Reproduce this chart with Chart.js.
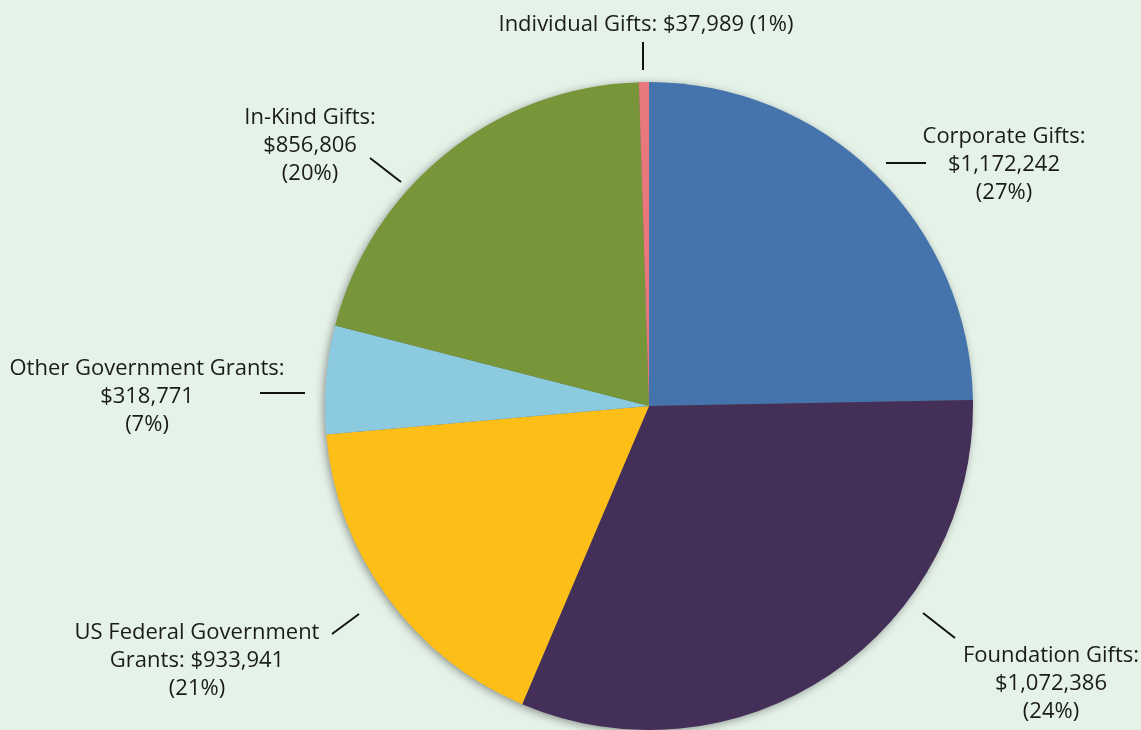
<!DOCTYPE html>
<html>
<head>
<meta charset="utf-8">
<script src="https://cdn.jsdelivr.net/npm/chart.js@4/dist/chart.umd.min.js"></script>
<style>
  html, body { margin: 0; padding: 0; background: #e5f2e8; }
  #wrap { width: 1141px; height: 730px; position: relative; }
</style>
</head>
<body>
<div id="wrap"><canvas id="pieChart"></canvas></div>
<script>
// categories (clockwise from 12 o'clock)
const categories = ["Corporate Gifts", "Foundation Gifts", "US Federal Government Grants",
    "Other Government Grants", "In-Kind Gifts", "Individual Gifts"];
// dollar amounts and percentages printed in the labels
const amounts = [1172242, 1072386, 933941, 318771, 856806, 37989];
const percents = [27, 24, 21, 7, 20, 1];
// slice sizes as drawn in the picture (% of circle)
const sliceShares = [24.7, 31.7, 17.2, 5.4, 20.5, 0.5];
const colors = ['#4574ad', '#432f58', '#fdbf17', '#8ccbdf', '#779639', '#e9787c'];

// label text lines per slice
const fmt = n => '$' + n.toLocaleString('en-US');
const labelLines = [
    ["Corporate Gifts:", fmt(amounts[0]), `(${percents[0]}%)`],
    ["Foundation Gifts:", fmt(amounts[1]), `(${percents[1]}%)`],
    ["US Federal Government", `Grants: ${fmt(amounts[2])}`, `(${percents[2]}%)`],
    ["Other Government Grants:", fmt(amounts[3]), `(${percents[3]}%)`],
    ["In-Kind Gifts:", fmt(amounts[4]), `(${percents[4]}%)`],
    [`Individual Gifts: ${fmt(amounts[5])} (${percents[5]}%)`]
];

// placement of the callouts (text centre x, first line y, leader line)
const callouts = [
    { x: 1004, y: 137, line: [886, 163, 926, 163] },
    { x: 1051, y: 656, line: [923, 613, 955, 638] },
    { x: 197, y: 633, line: [332, 634, 359, 614] },
    { x: 147, y: 369, line: [260, 393, 305, 393] },
    { x: 310, y: 118, line: [370, 158, 401, 182] },
    { x: 646, y: 25, line: [643, 42, 643, 70] }
];

// soft shadow behind the pie
const pieShadow = {
    id: 'pieShadow',
    beforeDatasetsDraw(chart) {
        const arc = chart.getDatasetMeta(0).data[0];
        if (!arc) return;
        const ctx = chart.ctx;
        ctx.save();
        ctx.shadowColor = 'rgba(0,0,0,0.45)';
        ctx.shadowBlur = 10;
        ctx.shadowOffsetX = -2;
        ctx.shadowOffsetY = 2;
        ctx.fillStyle = '#666';
        ctx.beginPath();
        ctx.arc(arc.x, arc.y, arc.outerRadius - 1, 0, Math.PI * 2);
        ctx.fill();
        ctx.restore();
    }
};

// callout text and leader lines
const callout = {
    id: 'callout',
    afterDraw(chart) {
        const ctx = chart.ctx;
        ctx.save();
        ctx.font = '22px "Open Sans"';
        ctx.fillStyle = '#1b1b1b';
        ctx.textAlign = 'center';
        ctx.textBaseline = 'middle';
        labelLines.forEach((lines, i) => {
            const c = callouts[i];
            lines.forEach((t, j) => ctx.fillText(t, c.x, c.y + j * 28));
            ctx.strokeStyle = '#111';
            ctx.lineWidth = 2;
            ctx.beginPath();
            ctx.moveTo(c.line[0], c.line[1]);
            ctx.lineTo(c.line[2], c.line[3]);
            ctx.stroke();
        });
        ctx.restore();
    }
};

new Chart(document.getElementById('pieChart'), {
    type: 'pie',
    data: {
        labels: categories,
        datasets: [{
            data: sliceShares,
            backgroundColor: colors,
            borderWidth: 0,
            hoverOffset: 0
        }]
    },
    options: {
        responsive: true,
        maintainAspectRatio: false,
        animation: false,
        events: [],
        layout: { padding: { top: 82, bottom: 0, left: 200, right: 43 } },
        plugins: { legend: { display: false }, tooltip: { enabled: false } }
    },
    plugins: [pieShadow, callout]
});
</script>
</body>
</html>
